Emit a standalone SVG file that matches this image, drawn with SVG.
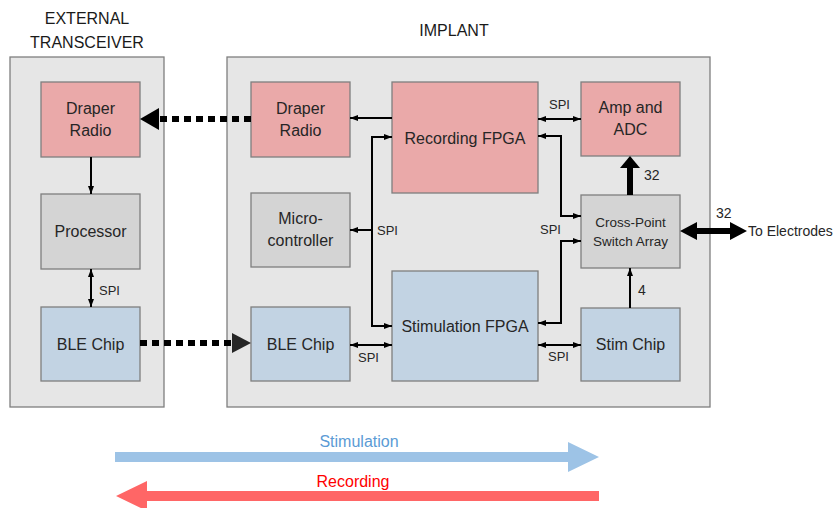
<svg xmlns="http://www.w3.org/2000/svg" width="839" height="508" viewBox="0 0 839 508">
<style>
.cont{fill:#e6e6e6;stroke:#7f7f7f;stroke-width:1.3}
.pink{fill:#eaa9a9;stroke:#7f7f7f;stroke-width:1.3}
.gray{fill:#d4d4d4;stroke:#7f7f7f;stroke-width:1.3}
.blue{fill:#c2d3e3;stroke:#7f7f7f;stroke-width:1.3}
text{font-family:"Liberation Sans",Arial,sans-serif;fill:#262626}
.t{font-size:16px;text-anchor:middle}
.title{font-size:16px;text-anchor:middle;fill:#1a1a1a}
.s{font-size:13px}
.ln{fill:none;stroke:#000;stroke-width:2}
</style>
<defs>
<marker id="ah" viewBox="0 0 8 6" refX="8" refY="3" markerWidth="8" markerHeight="6" markerUnits="userSpaceOnUse" orient="auto-start-reverse">
<path d="M0,0 L8,3 L0,6 z" fill="#000"/>
</marker>
</defs>
<text class="title" x="87" y="24">EXTERNAL</text>
<text class="title" x="87" y="48">TRANSCEIVER</text>
<text class="title" x="454" y="36">IMPLANT</text>
<rect id="external" class="cont" x="10" y="57" width="154" height="350"/>
<rect id="implant" class="cont" x="227" y="57" width="483" height="350"/>
<g id="ext-draper"><rect class="pink" x="41" y="82" width="99" height="75"/><text class="t" x="90.5" y="114">Draper</text><text class="t" x="90.5" y="136">Radio</text></g>
<g id="processor"><rect class="gray" x="41" y="194" width="99" height="75"/><text class="t" x="90.5" y="237">Processor</text></g>
<g id="ext-ble"><rect class="blue" x="41" y="307" width="99" height="74"/><text class="t" x="90.5" y="350">BLE Chip</text></g>
<g id="imp-draper"><rect class="pink" x="251" y="82" width="99" height="75"/><text class="t" x="300.5" y="114">Draper</text><text class="t" x="300.5" y="136">Radio</text></g>
<g id="rec-fpga"><rect class="pink" x="392" y="82" width="146" height="111"/><text class="t" x="465" y="144">Recording FPGA</text></g>
<g id="amp-adc"><rect class="pink" x="581" y="82" width="99" height="74"/><text class="t" x="630.5" y="113">Amp and</text><text class="t" x="630.5" y="135">ADC</text></g>
<g id="micro"><rect class="gray" x="251" y="193" width="99" height="74"/><text class="t" x="300.5" y="224">Micro-</text><text class="t" x="300.5" y="246">controller</text></g>
<g id="stim-fpga"><rect class="blue" x="392" y="271" width="146" height="110"/><text class="t" x="465" y="332">Stimulation FPGA</text></g>
<g id="imp-ble"><rect class="blue" x="251" y="307" width="99" height="74"/><text class="t" x="300.5" y="350">BLE Chip</text></g>
<g id="crosspoint"><rect class="gray" x="581" y="195" width="99" height="73"/><text class="t" x="630.5" y="227" style="font-size:13.5px">Cross-Point</text><text class="t" x="630.5" y="246" style="font-size:13.5px">Switch Array</text></g>
<g id="stim-chip"><rect class="blue" x="581" y="308" width="99" height="73"/><text class="t" x="630.5" y="350">Stim Chip</text></g>
<g id="connectors">
<line class="ln" x1="91" y1="157" x2="91" y2="194" marker-end="url(#ah)"/>
<line class="ln" x1="91" y1="269" x2="91" y2="307" marker-start="url(#ah)" marker-end="url(#ah)"/>
<line x1="251" y1="119" x2="156" y2="119" stroke="#000" stroke-width="6" stroke-dasharray="7 5"/>
<polygon points="140,119 159,108 159,130" fill="#000"/>
<line x1="140" y1="343" x2="234" y2="343" stroke="#000" stroke-width="6" stroke-dasharray="7 5"/>
<polygon points="251,343 232,333 232,353" fill="#262626"/>
<line class="ln" x1="392" y1="118" x2="350" y2="118" marker-end="url(#ah)"/>
<polyline class="ln" points="392,137 372,137 372,326 392,326" marker-start="url(#ah)" marker-end="url(#ah)"/>
<line class="ln" x1="372" y1="230" x2="350" y2="230" marker-end="url(#ah)"/>
<line class="ln" x1="538" y1="119" x2="581" y2="119" marker-start="url(#ah)" marker-end="url(#ah)"/>
<polyline class="ln" points="538,136 561,136 561,216 581,216" marker-start="url(#ah)" marker-end="url(#ah)"/>
<polyline class="ln" points="538,323 561,323 561,241 581,241" marker-start="url(#ah)" marker-end="url(#ah)"/>
<line class="ln" x1="538" y1="345" x2="581" y2="345" marker-start="url(#ah)" marker-end="url(#ah)"/>
<line class="ln" x1="350" y1="345" x2="392" y2="345" marker-start="url(#ah)" marker-end="url(#ah)"/>
<line class="ln" x1="630" y1="308" x2="630" y2="268" marker-end="url(#ah)"/>
<rect x="627" y="166" width="6" height="29" fill="#000"/>
<polygon points="630,156 640,168 620,168" fill="#000"/>
<polygon points="680,231 697,222 697,228 730,228 730,222 747,231 730,240 730,234 697,234 697,240" fill="#000"/>
<text class="s" x="92" y="295" dx="7">SPI</text>
<text class="s" x="377" y="235">SPI</text>
<text class="s" x="549" y="109">SPI</text>
<text class="s" x="540" y="234">SPI</text>
<text class="s" x="358" y="362">SPI</text>
<text class="s" x="548" y="361">SPI</text>
<text class="s" x="638" y="295" style="font-size:14px">4</text>
<text class="s" x="644" y="180" style="font-size:14px">32</text>
<text class="s" x="716" y="218" style="font-size:14px">32</text>
<text x="748" y="236" style="font-size:14px">To Electrodes</text>
</g>
<g id="legend">
<polygon points="115,452 568,452 568,442 599,457 568,472 568,462 115,462" fill="#9dc3e6"/>
<text x="359" y="447" style="font-size:16px;text-anchor:middle;fill:#5b9bd5">Stimulation</text>
<polygon points="599,491 147,491 147,481 116,496 147,511 147,501 599,501" fill="#ff6666"/>
<text x="353" y="487" style="font-size:16px;text-anchor:middle;fill:#ff0000">Recording</text>
</g>
</svg>
